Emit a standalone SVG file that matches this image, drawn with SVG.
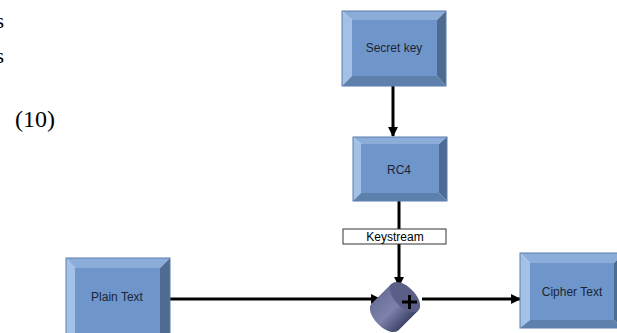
<svg xmlns="http://www.w3.org/2000/svg" width="617" height="333" viewBox="0 0 617 333">
<defs>
<style>
.top{fill:#8cadd9}.lft{fill:#a3c0e6}.rgt{fill:#4e6b91}.bot{fill:#5e80ad}
.face{fill:#6e96cb}
.out{fill:none;stroke:#5b7fae;stroke-width:1}
.lbl{font-family:"Liberation Sans",Arial,sans-serif;font-size:12px;fill:#1c2535;text-anchor:middle}
.conn{stroke:#000;stroke-width:3;fill:none}
.serif{font-family:"Liberation Serif","Times New Roman",serif;fill:#000}
</style>
<marker id="ah" viewBox="0 0 10 10" refX="9" refY="5" markerWidth="3.3" markerHeight="3.3" orient="auto" markerUnits="strokeWidth">
<path d="M0,0 L10,5 L0,10 Z" fill="#000"/>
</marker>
<linearGradient id="cyl" x1="0" y1="0" x2="0" y2="1">
<stop offset="0" stop-color="#6b7099"/>
<stop offset="0.5" stop-color="#7c82ad"/>
<stop offset="1" stop-color="#3e4368"/>
</linearGradient>
</defs>
<rect width="617" height="333" fill="#fff"/>
<text class="serif" x="-4.5" y="28" font-size="22">s</text>
<text class="serif" x="-4.5" y="63" font-size="22">s</text>
<text class="serif" x="15" y="127" font-size="24">(10)</text>

<g id="conns">
<line class="conn" x1="393" y1="86" x2="393" y2="136" marker-end="url(#ah)"/>
<line class="conn" x1="399" y1="201" x2="399" y2="229"/>
<line class="conn" x1="399" y1="244" x2="399" y2="286" marker-end="url(#ah)"/>
<line class="conn" x1="170" y1="299" x2="380" y2="299" marker-end="url(#ah)"/>
<line class="conn" x1="422" y1="299" x2="520" y2="299" marker-end="url(#ah)"/>
</g>

<g id="secret-key">
<polygon class="top" points="342,11 446,11 437,20 352,20"/>
<polygon class="lft" points="342,11 352,20 352,76 342,86"/>
<polygon class="rgt" points="446,11 446,86 437,76 437,20"/>
<polygon class="bot" points="342,86 446,86 437,76 352,76"/>
<rect class="face" x="352" y="20" width="85" height="56"/>
<rect class="out" x="342" y="11" width="104" height="75"/>
<text class="lbl" x="394" y="52">Secret key</text>
</g>

<g id="rc4">
<polygon class="top" points="353,137 447,137 439,144 361,144"/>
<polygon class="lft" points="353,137 361,144 361,193 353,201"/>
<polygon class="rgt" points="447,137 447,201 439,193 439,144"/>
<polygon class="bot" points="353,201 447,201 439,193 361,193"/>
<rect class="face" x="361" y="144" width="78" height="49"/>
<rect class="out" x="353" y="137" width="94" height="64"/>
<text class="lbl" x="399" y="174">RC4</text>
</g>

<g id="keystream">
<rect x="343" y="229" width="103" height="15" fill="#fff" stroke="#333" stroke-width="1"/>
<text x="395" y="241" font-family="'Liberation Sans',Arial,sans-serif" font-size="12" fill="#000" text-anchor="middle">Keystream</text>
</g>

<g id="plain-text">
<polygon class="top" points="66,258 170,258 160,268 75,268"/>
<polygon class="lft" points="66,258 75,268 75,333 66,342"/>
<polygon class="rgt" points="170,258 170,342 160,333 160,268"/>
<polygon class="bot" points="66,342 170,342 160,333 75,333"/>
<rect class="face" x="75" y="268" width="85" height="65"/>
<rect class="out" x="66" y="258" width="104" height="84"/>
<text class="lbl" x="117" y="301">Plain Text</text>
</g>

<g id="cipher-text">
<polygon class="top" points="520,253 624,253 614,263 530,263"/>
<polygon class="lft" points="520,253 530,263 530,320 520,328"/>
<polygon class="rgt" points="624,253 624,328 614,320 614,263"/>
<polygon class="bot" points="520,328 624,328 614,320 530,320"/>
<rect class="face" x="530" y="263" width="84" height="57"/>
<rect class="out" x="520" y="253" width="104" height="75"/>
<text class="lbl" x="572" y="296">Cipher Text</text>
</g>

<g id="xor">
<g transform="translate(395,307) rotate(-45)">
<path d="M-14,-19 L14,-19 L14,19 L-14,19 A10,19 0 0 1 -14,-19 Z" fill="url(#cyl)"/>
<ellipse cx="14" cy="0" rx="10" ry="19" fill="#5b5f87"/>
</g>
<path d="M402,302 H417 M409.5,295 V309" stroke="#000" stroke-width="3"/>
</g>
</svg>
